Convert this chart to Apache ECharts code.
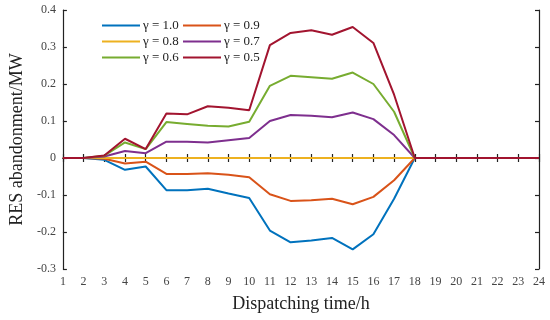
<!DOCTYPE html>
<html><head><meta charset="utf-8">
<script src="https://cdn.jsdelivr.net/npm/echarts@6/dist/echarts.min.js"></script>
<style>html,body{margin:0;padding:0;background:#fff}#c{width:550px;height:320px}</style>
</head><body><div id="c"></div>
<script>
var hours = [1,2,3,4,5,6,7,8,9,10,11,12,13,14,15,16,17,18,19,20,21,22,23,24];
var seriesNames = ['γ = 1.0','γ = 0.9','γ = 0.8','γ = 0.7','γ = 0.6','γ = 0.5'];
var g10 = [0,0,-0.005,-0.032,-0.023,-0.087,-0.087,-0.083,-0.096,-0.108,-0.196,-0.228,-0.223,-0.216,-0.247,-0.206,-0.11,0,0,0,0,0,0,0];
var g09 = [0,0,-0.002,-0.015,-0.01,-0.043,-0.043,-0.041,-0.045,-0.052,-0.098,-0.116,-0.114,-0.11,-0.125,-0.105,-0.06,0,0,0,0,0,0,0];
var g08 = [0,0,0,0,0,0,0,0,0,0,0,0,0,0,0,0,0,0,0,0,0,0,0,0];
var g07 = [0,0,0.004,0.019,0.013,0.044,0.044,0.042,0.048,0.054,0.1,0.116,0.114,0.11,0.123,0.105,0.062,0,0,0,0,0,0,0];
var g06 = [0,0,0.006,0.042,0.024,0.097,0.092,0.087,0.085,0.098,0.195,0.222,0.218,0.214,0.231,0.2,0.125,0,0,0,0,0,0,0];
var g05 = [0,0,0.007,0.052,0.024,0.12,0.118,0.14,0.136,0.129,0.305,0.338,0.345,0.333,0.354,0.311,0.171,0,0,0,0,0,0,0];
var yTicks = [-0.3,-0.2,-0.1,0,0.1,0.2,0.3,0.4];
var colors = ['#0072BD','#D95319','#EDB120','#7E2F8E','#77AC30','#A2142F'];
var allData = [g10,g09,g08,g07,g06,g05];

var font = '"Liberation Serif","DejaVu Serif",serif';
var series = allData.map(function(arr,i){
  return {
    name: seriesNames[i], type:'line', xAxisIndex:0, yAxisIndex:0,
    data: hours.map(function(h,k){return [h,arr[k]];}),
    showSymbol:false, symbol:'none', animation:false,
    lineStyle:{color:colors[i], width:2}, itemStyle:{color:colors[i]}
  };
});
var axisLine = {show:true, lineStyle:{color:'#222', width:1.2}};
var tick = {show:true, inside:true, length:4, lineStyle:{color:'#222', width:1.2}};
var fmtY = function(v){ var r=Math.round(v*10)/10; return r===0?'0':r.toFixed(1); };
var legendCommon = {orient:'vertical', top:19, padding:0, itemWidth:38, itemHeight:2, itemGap:3, icon:'rect',
     textStyle:{fontFamily:font, fontSize:13, color:'#222', padding:[0,0,0,-2]}};
var chart = echarts.init(document.getElementById('c'));
chart.setOption({
  backgroundColor:'#fff',
  animation:false,
  grid:{left:60, right:11, top:10, bottom:51},
  legend:[
    Object.assign({data:[seriesNames[0],seriesNames[2],seriesNames[4]], left:102}, legendCommon),
    Object.assign({data:[seriesNames[1],seriesNames[3],seriesNames[5]], left:183}, legendCommon)
  ],
  xAxis:[
    {type:'value', min:1, max:24, interval:1, position:'bottom',
     name:'Dispatching time/h', nameLocation:'middle', nameGap:26,
     nameTextStyle:{fontFamily:font, fontSize:18, color:'#222'},
     axisLine:axisLine, axisTick:tick, splitLine:{show:false},
     axisLabel:{fontFamily:font, fontSize:12, color:'#444', margin:7}},
    {type:'value', min:1, max:24, interval:1, position:'top',
     axisLine:axisLine, axisTick:tick, splitLine:{show:false}, axisLabel:{show:false}}
  ],
  yAxis:[
    {type:'value', min:yTicks[0], max:yTicks[yTicks.length-1], interval:0.1, position:'left',
     name:'RES abandonment/MW', nameLocation:'middle', nameGap:29,
     nameTextStyle:{fontFamily:font, fontSize:18, color:'#222'},
     axisLine:axisLine, axisTick:tick, splitLine:{show:false},
     axisLabel:{fontFamily:font, fontSize:12, color:'#444', margin:7, formatter:fmtY}},
    {type:'value', min:yTicks[0], max:yTicks[yTicks.length-1], interval:0.1, position:'right',
     axisLine:axisLine, axisTick:tick, splitLine:{show:false}, axisLabel:{show:false}}
  ],
  series: series
});
</script></body></html>
